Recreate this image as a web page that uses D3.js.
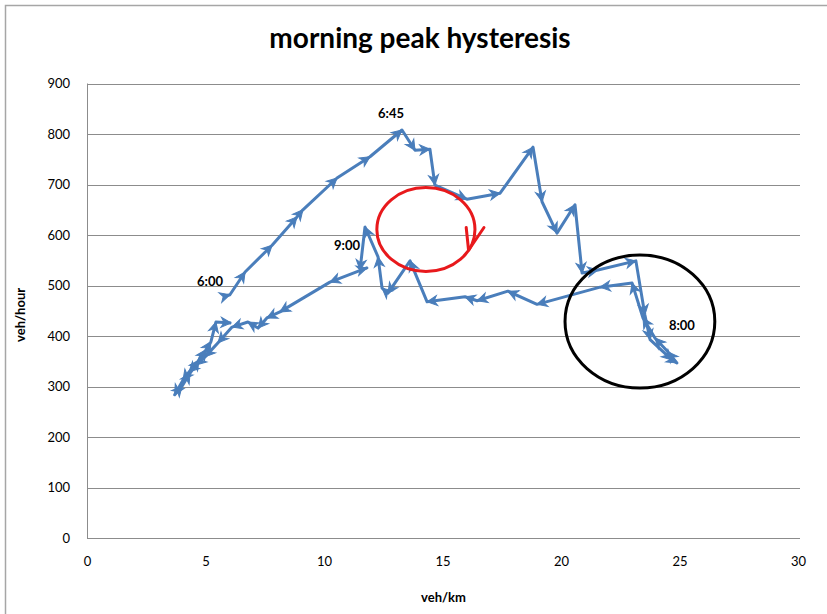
<!DOCTYPE html>
<html>
<head>
<meta charset="utf-8">
<script src="https://cdn.jsdelivr.net/npm/d3@7"></script>
<style>
  body { margin: 0; background: #fff; }
  svg { display: block; }
</style>
</head>
<body>
<svg id="chart" width="827" height="614"></svg>
<script>
// ---- data (density veh/km, flow veh/hour), in time order ----
const density = [
  5.74, 6.03, 6.67, 7.81, 8.86, 9.11, 10.55, 11.94, 13.29, 13.84, 14.47, 14.68,
  16.03, 17.43, 18.82, 19.20, 19.83, 20.59, 20.89, 21.56, 23.16, 23.54, 23.76,
  24.68, 24.89, 24.51, 23.97, 23.46, 23.00,
  21.65, 18.99, 17.76, 16.46, 15.95, 14.35, 13.63, 12.70, 12.45, 12.28, 11.73,
  11.52, 11.81, 10.25, 8.14, 7.59, 7.22, 6.79, 6.12, 5.53, 4.98, 4.60, 4.30,
  4.05, 3.70, 4.01, 4.35, 4.73, 5.02, 5.23, 5.44, 6.08
];
const flow = [
  478, 482, 527, 580, 636, 650, 713, 755, 808, 768, 770, 699,
  671, 683, 774, 666, 604, 660, 525, 531, 549, 442, 393,
  353, 347, 369, 396, 436, 505,
  497, 463, 489, 470, 478, 468, 549, 485, 495, 557, 616,
  531, 535, 507, 448, 436, 416, 428, 418, 387, 359, 343, 329,
  313, 284, 301, 327, 353, 373, 389, 428, 426
];
const timeLabels = ["6:00", "6:45", "9:00", "8:00"];
const timeLabelX = [5.19, 12.83, 10.97, 25.1];
const timeLabelY = [509, 842, 580, 422];

const xTicks = [0, 5, 10, 15, 20, 25, 30];
const yTicks = [0, 100, 200, 300, 400, 500, 600, 700, 800, 900];

// hand-drawn annotations (data units)
const annCenterX = [14.3, 23.33];
const annCenterY = [611, 429];
const annRadX = [2.07, 3.16];
const annRadY = [83, 131.6];
const annColor = ["#e8191c", "#000000"];

const title = "morning peak hysteresis";
const xTitle = "veh/km";
const yTitle = "veh/hour";

// ---- layout ----
const svg = d3.select("#chart");
const pLeft = 87, pRight = 798, pTop = 83.5, pBottom = 538.3;
const x = d3.scaleLinear().domain([0, 30]).range([pLeft, pRight]);
const y = d3.scaleLinear().domain([0, 900]).range([pBottom, pTop]);
const font = "Lato, 'Open Sans', sans-serif";

// outer frame
svg.append("rect").attr("x", 5.5).attr("y", 5.5).attr("width", 900).attr("height", 700)
  .attr("fill", "#fff").attr("stroke", "#a6a6a6").attr("stroke-width", 1.5);

// title
svg.append("text").attr("x", 420).attr("y", 48).attr("text-anchor", "middle")
  .attr("font-family", font).attr("font-weight", "bold").attr("font-size", 28)
  .attr("fill", "#000").text(title);

// gridlines
svg.append("g").selectAll("line").data(yTicks).join("line")
  .attr("x1", pLeft).attr("x2", pRight + 2)
  .attr("y1", d => Math.round(y(d)) + 0.5).attr("y2", d => Math.round(y(d)) + 0.5)
  .attr("stroke", "#8c8c8c").attr("stroke-width", 1);

// y axis line
svg.append("line").attr("x1", pLeft + 0.5).attr("x2", pLeft + 0.5)
  .attr("y1", pTop).attr("y2", pBottom).attr("stroke", "#8c8c8c");

// axes (labels only)
const yAxis = d3.axisLeft(y).tickValues(yTicks).tickSize(0).tickPadding(17);
const gy = svg.append("g").attr("transform", `translate(${pLeft},0)`).call(yAxis);
gy.select(".domain").remove();
gy.selectAll("text").attr("font-family", font).attr("font-size", 13).attr("fill", "#000");

const xAxis = d3.axisBottom(x).tickValues(xTicks).tickSize(0).tickPadding(18);
const gx = svg.append("g").attr("transform", `translate(0,${pBottom})`).call(xAxis);
gx.select(".domain").remove();
gx.selectAll("text").attr("font-family", font).attr("font-size", 13).attr("fill", "#000");

// axis titles
svg.append("text").attr("x", x(15) + 1).attr("y", 602).attr("text-anchor", "middle")
  .attr("font-family", font).attr("font-weight", "bold").attr("font-size", 13).text(xTitle);
svg.append("text").attr("transform", `translate(25,${y(450) + 4}) rotate(-90)`)
  .attr("text-anchor", "middle").attr("font-family", font).attr("font-weight", "bold")
  .attr("font-size", 13).text(yTitle);

// series line
const pts = density.map((d, i) => [d, flow[i]]);
const color = "#4a7ebb";
svg.append("path").datum(pts)
  .attr("d", d3.line().x(d => x(d[0])).y(d => y(d[1])))
  .attr("fill", "none").attr("stroke", color).attr("stroke-width", 3)
  .attr("stroke-linejoin", "round");

// arrowheads at each point (pointing in travel direction)
const heads = pts.slice(1).map((p, i) => {
  const a = pts[i];
  const ang = Math.atan2(y(p[1]) - y(a[1]), x(p[0]) - x(a[0])) * 180 / Math.PI;
  return { px: x(p[0]), py: y(p[1]), ang };
});
svg.append("g").selectAll("path").data(heads).join("path")
  .attr("d", "M0,0 L-10,-5 L-7,0 L-10,5 Z")
  .attr("transform", d => `translate(${d.px},${d.py}) rotate(${d.ang})`)
  .attr("fill", color).attr("stroke", color).attr("stroke-width", 1);

// time labels
svg.append("g").selectAll("text").data(timeLabels).join("text")
  .attr("x", (d, i) => x(timeLabelX[i])).attr("y", (d, i) => y(timeLabelY[i]) + 5)
  .attr("text-anchor", "middle").attr("font-family", font).attr("font-weight", "bold")
  .attr("font-size", 13).attr("fill", "#000").text(d => d);

// annotations: circles
svg.append("g").selectAll("ellipse").data(annCenterX).join("ellipse")
  .attr("cx", (d, i) => x(d)).attr("cy", (d, i) => y(annCenterY[i]))
  .attr("rx", (d, i) => x(annRadX[i]) - x(0)).attr("ry", (d, i) => y(0) - y(annRadY[i]))
  .attr("fill", "none").attr("stroke", (d, i) => annColor[i]).attr("stroke-width", 3);

// red hook arrow
const hookX = [16.0, 16.1, 16.75];
const hookY = [615, 570, 615];
svg.append("path")
  .attr("d", d3.line()(hookX.map((d, i) => [x(d), y(hookY[i])])))
  .attr("fill", "none").attr("stroke", annColor[0]).attr("stroke-width", 3)
  .attr("stroke-linejoin", "round").attr("stroke-linecap", "round");
</script>
</body>
</html>
